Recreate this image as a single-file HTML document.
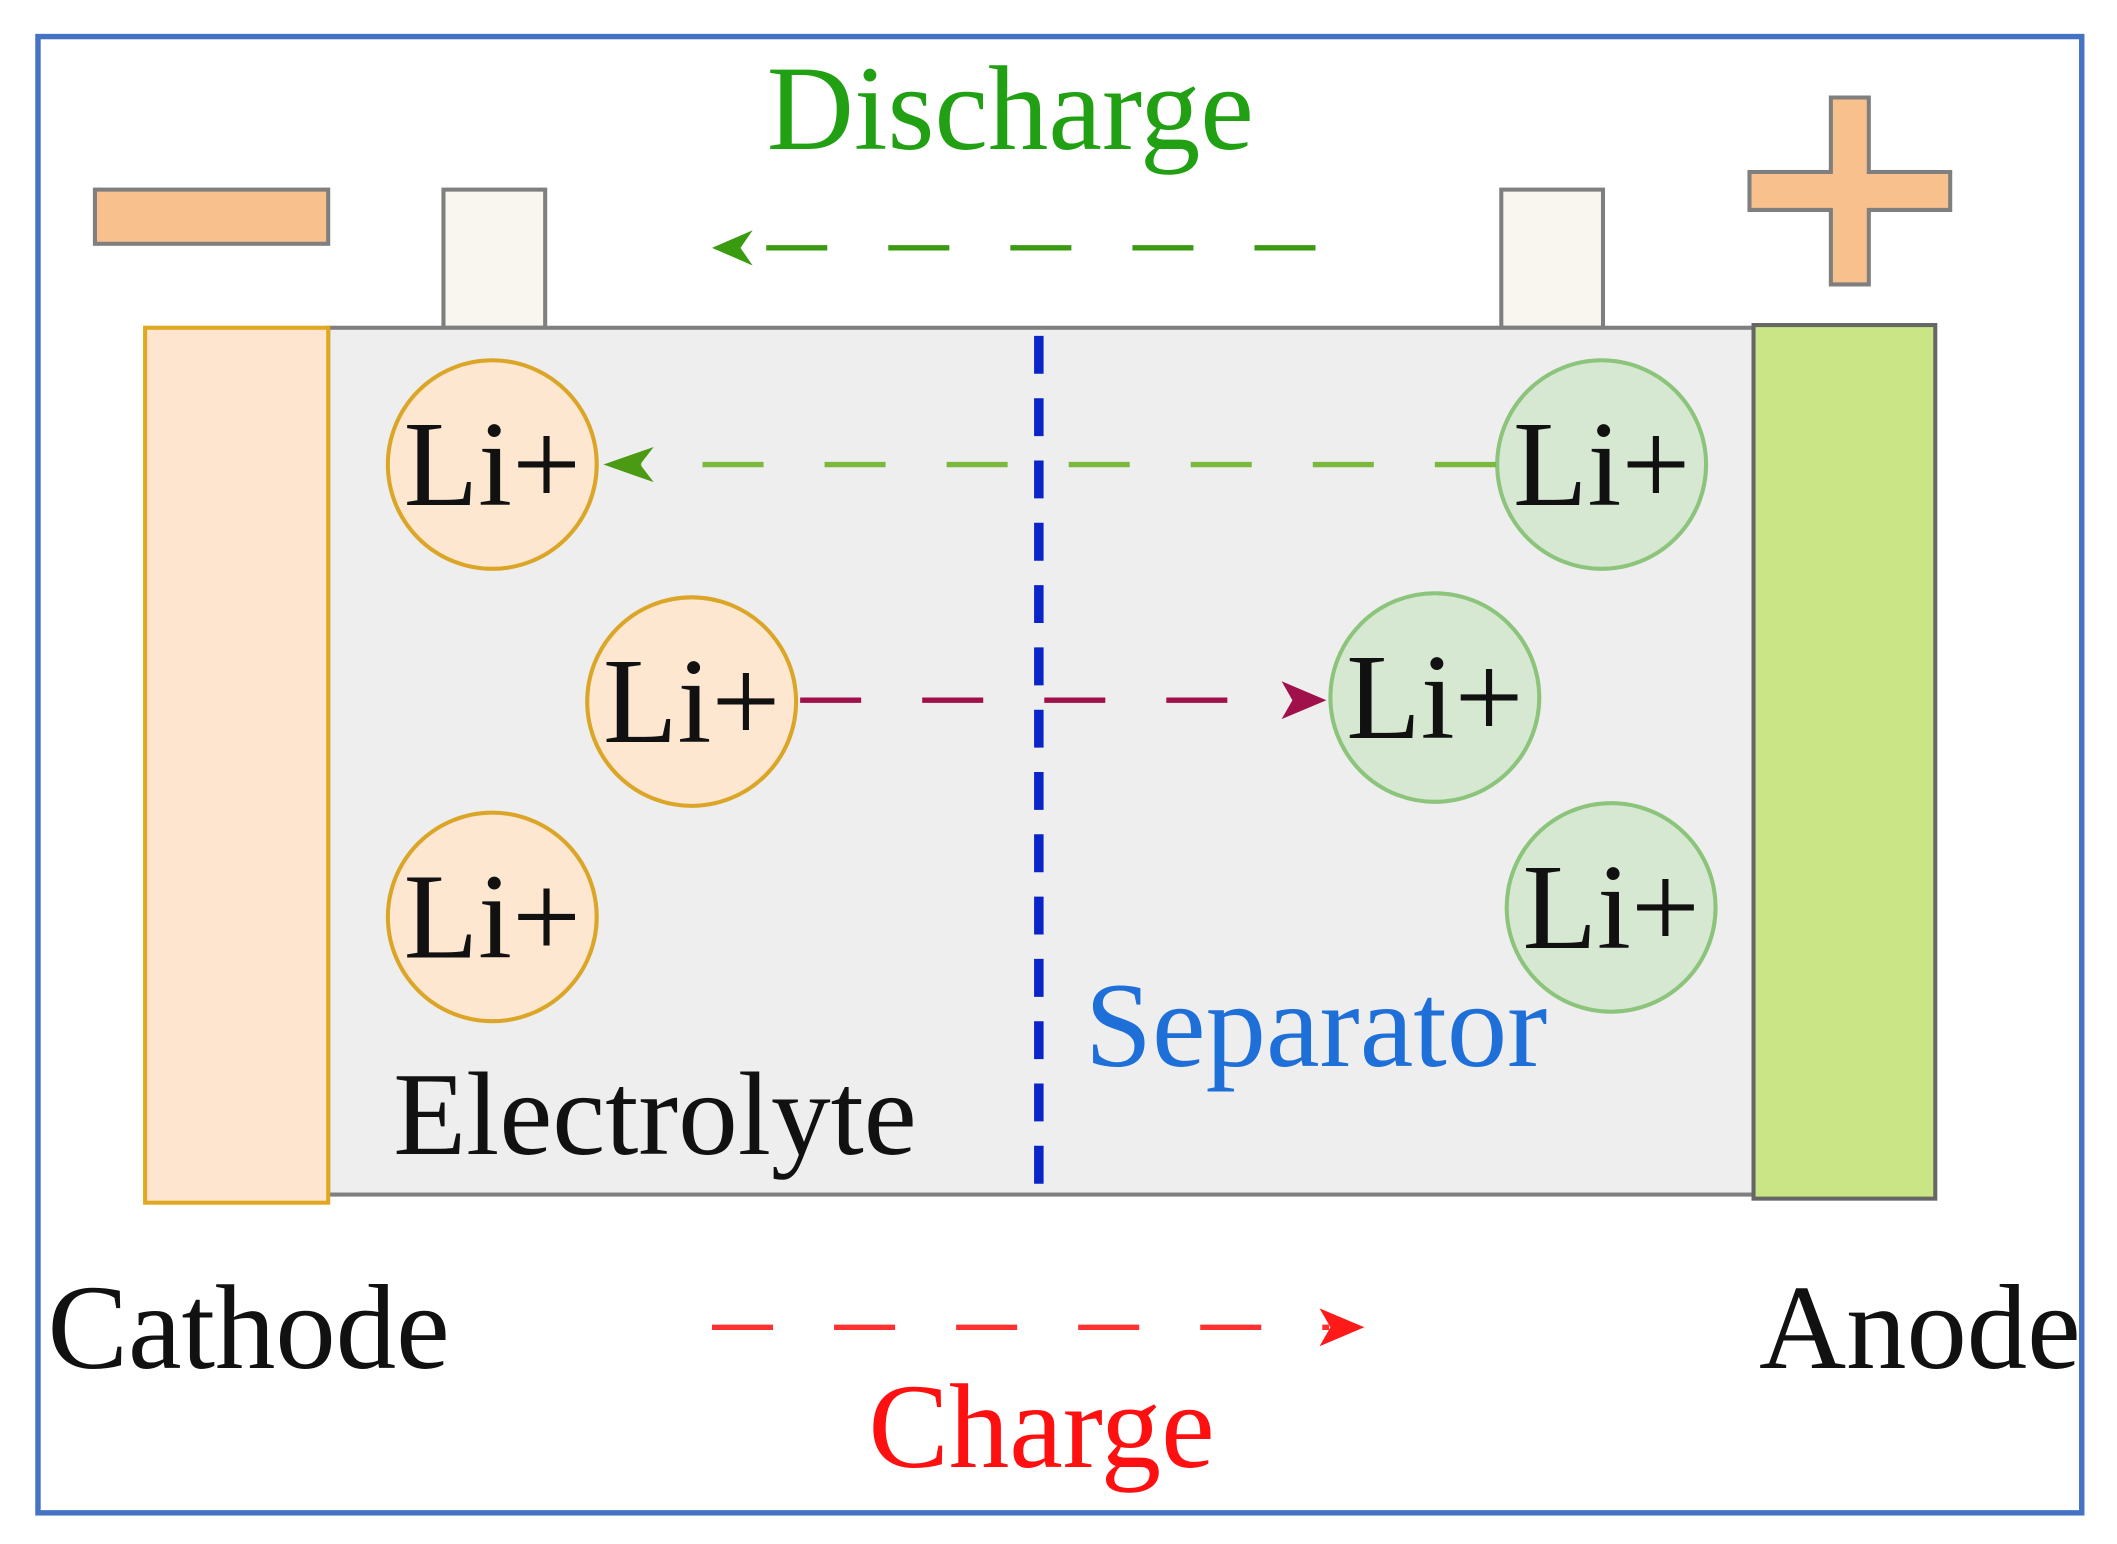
<!DOCTYPE html>
<html><head><meta charset="utf-8"><style>
html,body{margin:0;padding:0;background:#fff;}
svg{display:block;}
text{font-family:"Liberation Serif",serif;}
</style></head><body>
<svg width="2117" height="1544" viewBox="0 0 1561 1140" preserveAspectRatio="none" xmlns="http://www.w3.org/2000/svg">
<rect x="0" y="0" width="1561" height="1140" fill="#fff"/>
<rect x="28" y="27" width="1507" height="1090" fill="#fff" stroke="#4472c4" stroke-width="4"/>
<rect x="70" y="140" width="172" height="40" fill="#f8c08c" stroke="#7f7f7f" stroke-width="3"/>
<path d="M1350,72 H1378 V127 H1438 V155 H1378 V210 H1350 V155 H1290 V127 H1350 Z" fill="#f8c08c" stroke="#7f7f7f" stroke-width="3"/>
<rect x="327" y="140" width="75" height="102" fill="#f8f6ee" stroke="#7f7f7f" stroke-width="3"/>
<rect x="1107" y="140" width="75" height="102" fill="#f8f6ee" stroke="#7f7f7f" stroke-width="3"/>
<rect x="242" y="242" width="1051" height="640" fill="#eeeeee" stroke="#7f7f7f" stroke-width="3"/>
<rect x="107" y="242" width="135" height="646" fill="#fde5cf" stroke="#e0a820" stroke-width="3"/>
<rect x="1293" y="240" width="134" height="645" fill="#c9e585" stroke="#666" stroke-width="3"/>
<line x1="766" y1="248" x2="766" y2="882" stroke="#0a24c8" stroke-width="7" stroke-dasharray="28,18"/>
<g stroke-width="3">
<circle cx="363" cy="343" r="77" fill="#fde7d0" stroke="#dba628"/>
<circle cx="510" cy="518" r="77" fill="#fde7d0" stroke="#dba628"/>
<circle cx="363" cy="677" r="77" fill="#fde7d0" stroke="#dba628"/>
<circle cx="1181" cy="343" r="77" fill="#d6e8d2" stroke="#8cc47c"/>
<circle cx="1058" cy="515" r="77" fill="#d6e8d2" stroke="#8cc47c"/>
<circle cx="1188" cy="670" r="77" fill="#d6e8d2" stroke="#8cc47c"/>
</g>
<line x1="970" y1="183" x2="555" y2="183" stroke="#3a9a10" stroke-width="4" stroke-dasharray="45,45"/>
<path d="M555,170 L525,183 L555,196 L546,183 Z" fill="#3a9a10"/>
<line x1="1103" y1="343" x2="470" y2="343" stroke="#7ab83e" stroke-width="4" stroke-dasharray="45,45"/>
<path d="M482,330 L445,343 L482,356 L472,343 Z" fill="#4a9a14"/>
<line x1="590" y1="517" x2="950" y2="517" stroke="#a0104a" stroke-width="4" stroke-dasharray="45,45"/>
<path d="M945,503 L978,517 L945,531 L953,517 Z" fill="#a0104a"/>
<line x1="525" y1="980" x2="980" y2="980" stroke="#ff3030" stroke-width="4" stroke-dasharray="45,45"/>
<path d="M973,966 L1006,980 L973,994 L981,980 Z" fill="#ff1a1a"/>
<g font-size="90" fill="#111">
<text x="363" y="373" text-anchor="middle">Li+</text>
<text x="510" y="548" text-anchor="middle">Li+</text>
<text x="363" y="707" text-anchor="middle">Li+</text>
<text x="1181" y="373" text-anchor="middle">Li+</text>
<text x="1058" y="545" text-anchor="middle">Li+</text>
<text x="1188" y="700" text-anchor="middle">Li+</text>
<text x="290" y="852" font-size="88">Electrolyte</text>
<text x="35" y="1010" font-size="89">Cathode</text>
<text x="1297" y="1010" font-size="89">Anode</text>
</g>
<text x="800" y="787" font-size="89" fill="#1f6fd8">Separator</text>
<text x="745" y="110" font-size="89" fill="#22a014" text-anchor="middle">Discharge</text>
<text x="768" y="1083" font-size="89" fill="#ff1010" text-anchor="middle">Charge</text>
</svg>
</body></html>
